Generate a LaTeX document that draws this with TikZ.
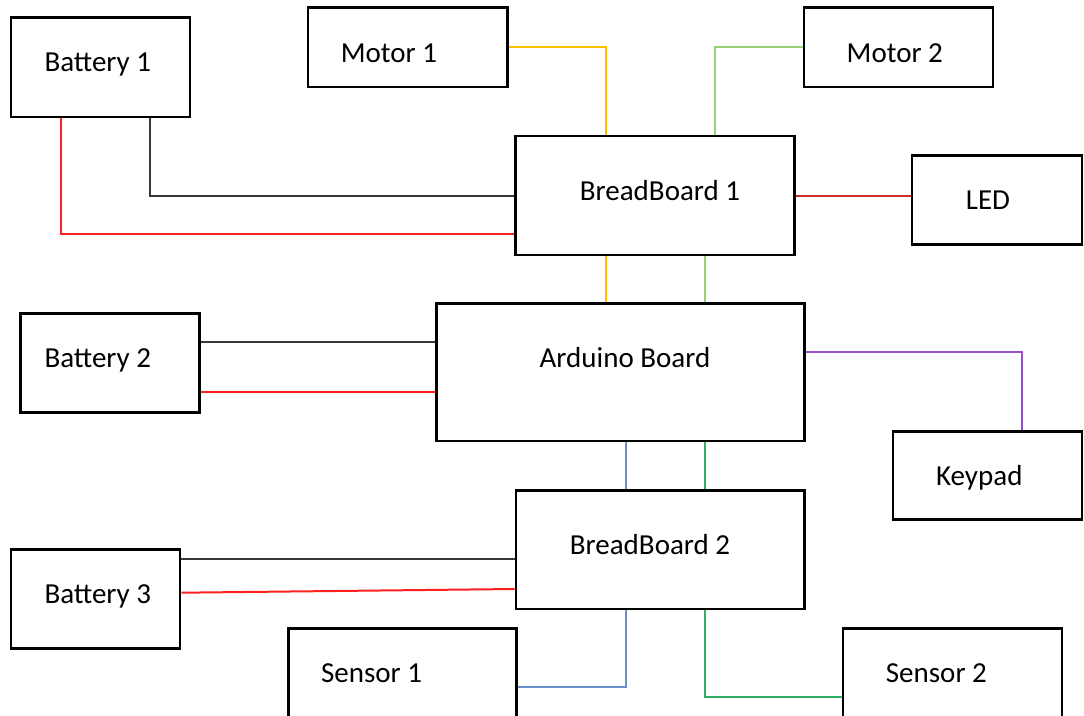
\documentclass[tikz,border=0pt]{standalone}
\usepackage{fontspec}
\setmainfont{Carlito}
\usetikzlibrary{calc}
\definecolor{wblack}{HTML}{383838}
\definecolor{wred}{HTML}{FF2020}
\definecolor{wdred}{HTML}{D02C2C}
\definecolor{wyellow}{HTML}{FFBF00}
\definecolor{wlgreen}{HTML}{98D078}
\definecolor{wgreen}{HTML}{30B066}
\definecolor{wblue}{HTML}{6A90CA}
\definecolor{wpurple}{HTML}{9850C8}
\tikzset{
  blk/.style={draw, line width=2.8pt, rectangle, inner sep=0pt},
  lbl/.style={anchor=base, inner sep=0pt, font=\fontsize{29}{34}\selectfont},
  wire/.style={line width=2pt},
}
\begin{document}
\begin{tikzpicture}[x=1pt,y=-1pt]
\useasboundingbox (0,0) rectangle (1084,715);
\clip (0,0) rectangle (1084,715);
% boxes
\node[blk, minimum width=179pt, minimum height=99.5pt] (b1) at (100.5,67.25) {};
\node[blk, minimum width=199.5pt, minimum height=79.5pt] (m1) at (407.75,47.25) {};
\node[blk, minimum width=189pt, minimum height=79.5pt] (m2) at (898.5,47.25) {};
\node[blk, minimum width=279pt, minimum height=119pt] (bb1) at (655,195.5) {};
\node[blk, minimum width=170pt, minimum height=89pt] (led) at (997,200) {};
\node[blk, minimum width=179pt, minimum height=99pt] (b2) at (110,363) {};
\node[blk, minimum width=368pt, minimum height=137.5pt] (ard) at (620.5,372.25) {};
\node[blk, minimum width=189pt, minimum height=88pt] (kp) at (987.5,475.5) {};
\node[blk, minimum width=288.5pt, minimum height=118.5pt] (bb2) at (660.25,549.75) {};
\node[blk, minimum width=169pt, minimum height=99pt] (b3) at (95.5,599) {};
\node[blk, minimum width=228pt, minimum height=101.5pt] (s1) at (402.5,679.25) {};
\node[blk, minimum width=219pt, minimum height=101.5pt] (s2) at (952.5,679.25) {};
% labels
\node[lbl] (b1t) at (97.8,71.7) {Battery 1};
\node[lbl] (m1t) at (389,62.3) {Motor 1};
\node[lbl] (m2t) at (894.8,62.3) {Motor 2};
\node[lbl] (bb1t) at (660,200) {BreadBoard 1};
\node[lbl] (ledt) at (988,209.3) {LED};
\node[lbl] (b2t) at (97.8,367.7) {Battery 2};
\node[lbl] (ardt) at (625,367.3) {Arduino Board};
\node[lbl] (kpt) at (979.3,485) {Keypad};
\node[lbl] (bb2t) at (650,554.3) {BreadBoard 2};
\node[lbl] (b3t) at (97.8,603.3) {Battery 3};
\node[lbl] (s1t) at (371.6,682.3) {Sensor 1};
\node[lbl] (s2t) at (936.4,682.3) {Sensor 2};
% wires
\draw[wire, wblack] ([xshift=49.5pt]b1.south) |- (bb1.west);
\draw[wire, wred] ([xshift=-40pt]b1.south) |- ([yshift=-38.8pt]bb1.west);
\draw[wire, wyellow] (m1.east) -| ([xshift=-49pt]bb1.north);
\draw[wire, wlgreen] (m2.west) -| ([xshift=60pt]bb1.north);
\draw[wire, wdred] (bb1.east) -- (bb1.east -| led.west);
\draw[wire, wyellow] ([xshift=-49pt]bb1.south) -- ([xshift=-49pt]bb1.south |- ard.north);
\draw[wire, wlgreen] ([xshift=50pt]bb1.south) -- ([xshift=50pt]bb1.south |- ard.north);
\draw[wire, wblack] ([yshift=20.7pt]b2.east) -- ([yshift=20.7pt]b2.east -| ard.west);
\draw[wire, wred] ([yshift=-29pt]b2.east) -- ([yshift=-29pt]b2.east -| ard.west);
\draw[wire, wpurple] ([yshift=20pt]ard.east) -| ([xshift=34.8pt]kp.north);
\draw[wire, wblue] ([xshift=5.5pt]ard.south) -- ([xshift=5.5pt]ard.south |- bb2.north);
\draw[wire, wgreen] ([xshift=84.5pt]ard.south) -- ([xshift=84.5pt]ard.south |- bb2.north);
\draw[wire, wblack] ([yshift=39.7pt]b3.east) -- ([yshift=39.7pt]b3.east -| bb2.west);
\draw[wire, wred] ([yshift=6.3pt]b3.east) -- ([yshift=-39.25pt]bb2.west);
\draw[wire, wblue] ([xshift=-34.25pt]bb2.south) |- ([yshift=-8pt]s1.east);
\draw[wire, wgreen] ([xshift=44.75pt]bb2.south) |- ([yshift=-17.45pt]s2.west);
\end{tikzpicture}
\end{document}
